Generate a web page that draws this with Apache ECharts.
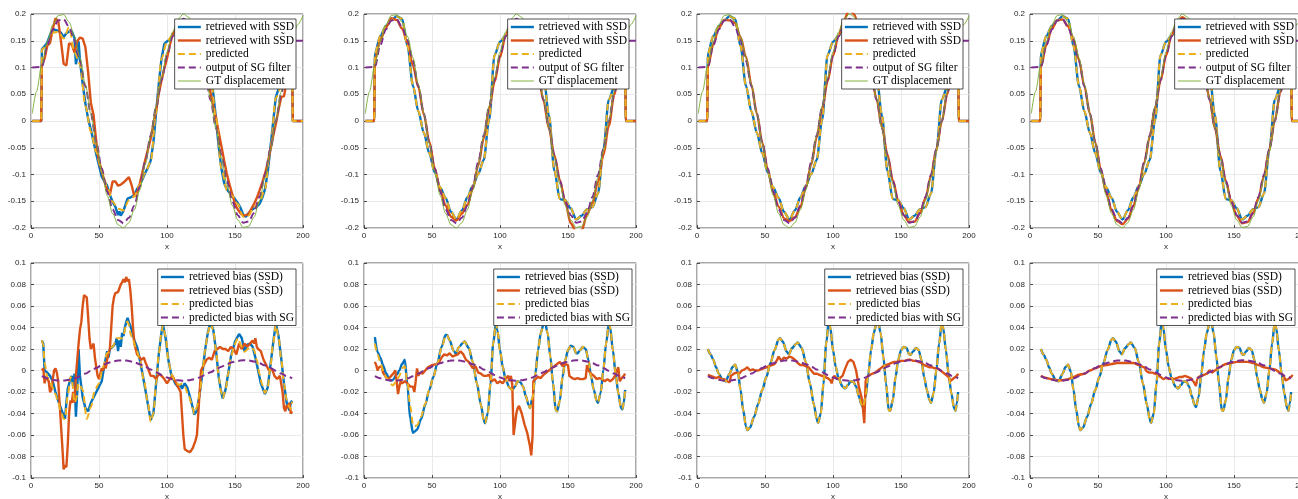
<!DOCTYPE html>
<html>
<head>
<meta charset="utf-8">
<script src="https://cdn.jsdelivr.net/npm/echarts@6/dist/echarts.min.js"></script>
<style>
html, body { margin: 0; padding: 0; background: #fff; }
#chart { width: 1298px; height: 499px; }
</style>
</head>
<body>
<div id="chart"></div>
<script>
//x 网格（每 4 个单位）
var grid4X = [8,12,16,20,24,28,32,36,40,44,48,52,56,60,64,68,72,76,80,84,88,92,96,100,104,108,112,116,120,124,128,132,136,140,144,148,152,156,160,164,168,172,176,180,184,188,192];
var topX = [1, 7.5].concat(grid4X, [192.5, 200]);
var sgTopX = [1].concat(grid4X, [193, 200]);

//GT displacement
var gtX = [1,4,8,12,16,20,24,28,32,36,40,44,48,52,56,60,64,68,72,76,80,84,88,92,96,100,104,108,112,116,120,124,128,132,136,140,144,148,152,156,160,164,168,172,176,180,184,188,192,196,200];
var gtY = [0.014,0.055,0.106,0.149,0.180,0.197,0.199,0.185,0.158,0.118,0.068,0.014,-0.042,-0.094,-0.139,-0.173,-0.194,-0.200,-0.190,-0.166,-0.129,-0.081,-0.028,0.028,0.081,0.129,0.166,0.190,0.200,0.194,0.173,0.139,0.094,0.042,-0.014,-0.068,-0.118,-0.158,-0.185,-0.199,-0.197,-0.180,-0.149,-0.106,-0.055,0,0.055,0.106,0.149,0.180,0.197];

//output of SG filter（上排共用）
var sgTopY = [0.1,0.101,0.142,0.171,0.188,0.190,0.176,0.151,0.113,0.065,0.014,-0.040,-0.089,-0.132,-0.165,-0.185,-0.191,-0.181,-0.158,-0.123,-0.077,-0.027,0.026,0.077,0.123,0.158,0.181,0.191,0.185,0.165,0.133,0.090,0.040,-0.013,-0.064,-0.112,-0.150,-0.176,-0.190,-0.188,-0.172,-0.142,-0.101,-0.053,0.000,0.052,0.101,0.142,0.15,0.15];

//predicted（第 2-4 列，蓝线与之重合）
var predTopY = [0,0,0.126,0.159,0.177,0.188,0.196,0.191,0.140,0.066,0.018,-0.022,-0.060,-0.096,-0.124,-0.144,-0.170,-0.184,-0.167,-0.143,-0.121,-0.099,-0.073,0.002,0.123,0.148,0.159,0.174,0.188,0.182,0.145,0.115,0.113,0.086,0.010,-0.093,-0.146,-0.148,-0.163,-0.184,-0.177,-0.165,-0.161,-0.136,-0.055,0.040,0.063,0.078,0.129,0,0];
var p1PredTopY = [0,0,0.134,0.143,0.165,0.167,0.154,0.175,0.128,0.106,0.028,-0.020,-0.058,-0.094,-0.123,-0.151,-0.164,-0.167,-0.148,-0.141,-0.119,-0.097,-0.076,0.016,0.117,0.149,0.160,0.177,0.187,0.170,0.133,0.118,0.113,0.086,0.005,-0.089,-0.129,-0.140,-0.155,-0.179,-0.177,-0.161,-0.152,-0.127,-0.052,0.043,0.065,0.079,0.120,0,0];

//retrieved with SSD，第 1 列
var p1BlueTopX = [1,7.5,8,10,12,14,16,18,20,22,24,26,28,30,32,33,34,35,36,38,40,42,44,46,48,50,52,54,56,58,60,62,63,64,65,66,68,70,71,72,74,76,78,80,82,84,86,88,90,92,94,96,98,100,102,104,106,108,110,112,114,116,118,120,122,124,126,128,130,132,134,136,138,140,142,144,146,148,150,152,154,156,158,160,162,164,166,168,170,172,174,176,178,180,182,184,186,188,190,192,192.5,200];
var p1BlueTopY = [0,0,0.134,0.140,0.147,0.161,0.170,0.170,0.169,0.165,0.157,0.164,0.167,0.168,0.155,0.106,0.119,0.149,0.113,0.069,0.033,0.004,-0.016,-0.039,-0.062,-0.083,-0.104,-0.113,-0.121,-0.138,-0.151,-0.160,-0.160,-0.176,-0.169,-0.177,-0.168,-0.152,-0.145,-0.145,-0.142,-0.138,-0.127,-0.119,-0.109,-0.097,-0.087,-0.074,-0.040,0.016,0.071,0.117,0.144,0.149,0.152,0.160,0.168,0.175,0.184,0.186,0.185,0.174,0.155,0.132,0.121,0.117,0.115,0.113,0.103,0.087,0.052,0.005,-0.048,-0.089,-0.116,-0.128,-0.134,-0.140,-0.146,-0.153,-0.162,-0.175,-0.179,-0.172,-0.167,-0.163,-0.160,-0.155,-0.144,-0.128,-0.097,-0.051,-0.003,0.044,0.060,0.066,0.069,0.076,0.092,0.121,0,0];

//retrieved with S~SD，各列
var p1OrangeTopX = [1,7.5,8,10,12,14,16,18,20,22,24,26,28,30,32,34,36,38,40,42,44,46,48,50,52,54,56,58,60,62,64,66,68,70,72,74,76,78,80,82,84,86,88,90,92,94,96,98,100,102,104,106,108,110,112,114,116,118,120,122,124,126,128,130,132,134,136,138,140,142,144,146,148,150,152,154,156,158,160,162,164,166,168,170,172,174,176,178,180,182,184,186,188,190,192,192.5,200];
var p1OrangeTopY = [0,0,0.106,0.117,0.141,0.146,0.172,0.192,0.187,0.150,0.107,0.104,0.145,0.143,0.128,0.149,0.156,0.154,0.138,0.092,0.034,0.011,-0.039,-0.076,-0.092,-0.113,-0.129,-0.138,-0.113,-0.113,-0.121,-0.119,-0.115,-0.110,-0.105,-0.120,-0.141,-0.134,-0.117,-0.095,-0.073,-0.053,-0.033,-0.005,0.020,0.052,0.076,0.098,0.117,0.141,0.161,0.170,0.175,0.177,0.140,0.125,0.119,0.111,0.105,0.098,0.119,0.121,0.102,0.079,0.053,0.028,0.006,-0.021,-0.047,-0.074,-0.099,-0.119,-0.137,-0.155,-0.165,-0.172,-0.177,-0.176,-0.174,-0.164,-0.155,-0.144,-0.130,-0.115,-0.099,-0.079,-0.054,-0.029,-0.006,0.021,0.045,0.046,0.074,0.099,0.111,0,0];
var p2OrangeTopY = [0,0,0.114,0.151,0.174,0.192,0.189,0.173,0.146,0.103,0.063,0.012,-0.038,-0.088,-0.129,-0.158,-0.179,-0.186,-0.173,-0.157,-0.127,-0.083,-0.033,0.024,0.073,0.119,0.158,0.185,0.160,0.154,0.115,0.109,0.088,0.038,-0.014,-0.064,-0.110,-0.152,-0.191,-0.207,-0.205,-0.175,-0.153,-0.114,-0.064,-0.009,0.049,0.096,0.146,0,0];
var p3OrangeTopY = [0,0,0.102,0.143,0.174,0.189,0.188,0.183,0.157,0.120,0.068,0.014,-0.040,-0.0905,-0.1335,-0.160,-0.182,-0.187,-0.180,-0.161,-0.125,-0.081,-0.031,0.023,0.074,0.122,0.1585,0.188,0.209,0.198,0.153,0.129,0.0905,0.041,-0.011,-0.0625,-0.1105,-0.1495,-0.176,-0.189,-0.188,-0.1725,-0.1445,-0.103,-0.053,-0.001,0.050,0.098,0.146,0,0];
var p4OrangeTopY = [0,0,0.101,0.142,0.172,0.188,0.190,0.177,0.152,0.114,0.065,0.014,-0.040,-0.090,-0.134,-0.167,-0.187,-0.193,-0.183,-0.159,-0.124,-0.078,-0.030,0.025,0.075,0.122,0.159,0.183,0.194,0.188,0.163,0.133,0.090,0.042,-0.014,-0.065,-0.112,-0.151,-0.177,-0.191,-0.189,-0.173,-0.144,-0.103,-0.053,0.001,0.053,0.097,0.143,0,0];

//predicted bias（第 3-4 列，蓝线与之重合）
var predBiasX = [8,10,12,14,16,19,21,24,26,28,30,32,34,36,37,39,42,45,48,51,54,57,60,61,63,66,67.5,70,73,74,77,80,83,86,88,89,91,93,95,97,98,100,102,104,107,109,111,113,115,117,119,121,122,124,126,128,130,132,133,135,137,139,141,142,144,146,148,150,152,154,156,157,159,161,163,165,167,169,171,172,174,176,178,180,181,183,185,187,189,190,191,192];
var predBiasY = [0.020,0.015,0.010,0.003,-0.003,-0.009,-0.010,-0.003,0.003,0.0055,-0.001,-0.018,-0.037,-0.052,-0.0555,-0.053,-0.043,-0.031,-0.018,-0.006,0.007,0.019,0.029,0.030,0.027,0.0175,0.015,0.021,0.025,0.026,0.021,0.008,-0.012,-0.032,-0.045,-0.0487,-0.040,-0.012,0.025,0.048,0.040,0.019,0.0035,-0.007,-0.015,-0.0166,-0.0135,-0.010,-0.0104,-0.015,-0.024,-0.032,-0.034,-0.0245,-0.003,0.019,0.035,0.044,0.047,0.035,0.013,-0.012,-0.037,-0.0375,-0.0275,-0.006,0.010,0.019,0.022,0.021,0.015,0.0145,0.018,0.021,0.019,0.010,-0.006,-0.018,-0.0275,-0.030,-0.021,0.0005,0.025,0.045,0.040,0.019,-0.003,-0.021,-0.035,-0.0375,-0.031,-0.020];
var p2BlueBiasY = [0.031,0.017,0.012,0.005,-0.002,-0.009,-0.009,-0.004,0.000,0.006,0.010,-0.015,-0.045,-0.058,-0.057,-0.055,-0.045,-0.032,-0.018,-0.006,0.007,0.022,0.033,0.033,0.028,0.018,0.016,0.022,0.026,0.027,0.021,0.008,-0.012,-0.032,-0.046,-0.049,-0.040,-0.012,0.025,0.044,0.038,0.019,0.0035,-0.008,-0.016,-0.018,-0.015,-0.010,-0.011,-0.015,-0.024,-0.032,-0.035,-0.025,-0.003,0.019,0.035,0.043,0.045,0.035,0.013,-0.012,-0.037,-0.038,-0.028,-0.006,0.010,0.019,0.023,0.022,0.016,0.016,0.019,0.022,0.020,0.010,-0.006,-0.018,-0.028,-0.030,-0.021,0.0005,0.025,0.043,0.040,0.019,-0.003,-0.021,-0.035,-0.036,-0.030,-0.018];
var p2PredBiasY = [0.025,0.015,0.008,0.000,-0.006,-0.011,-0.014,-0.010,-0.005,0.002,0.004,-0.012,-0.033,-0.050,-0.052,-0.051,-0.043,-0.031,-0.018,-0.006,0.007,0.021,0.032,0.033,0.028,0.018,0.016,0.022,0.026,0.027,0.021,0.008,-0.012,-0.032,-0.046,-0.049,-0.040,-0.012,0.025,0.044,0.038,0.019,0.0035,-0.008,-0.016,-0.018,-0.015,-0.010,-0.011,-0.015,-0.024,-0.032,-0.035,-0.025,-0.003,0.019,0.035,0.043,0.045,0.035,0.013,-0.012,-0.037,-0.038,-0.028,-0.006,0.010,0.019,0.023,0.022,0.016,0.016,0.019,0.022,0.020,0.010,-0.006,-0.018,-0.028,-0.030,-0.021,0.0005,0.025,0.043,0.040,0.019,-0.003,-0.021,-0.035,-0.036,-0.030,-0.018];

//第 1 列 bias
var p1BlueBiasX = [8,9,10,11,12,14,16,18,20,22,24,25,26,27,28,29,30,31,32,33,34,35,36,38,40,42,44,46,48,50,52,54,56,57,58,60,62,63,64,65,66,67,68,69,70,71,72,74,76,78,80,83,86,88,90,92,94,96,97,99,101,103,106,108,110,111,113,115,117,119,120,122,124,126,128,130,132,134,136,138,140,141,143,145,147,150,153,155,157,159,161,163,165,167,169,172,174,176,178,180,182,184,186,188,190,191,192];
var p1BlueBiasY = [0.028,0.025,0.0,0.0,-0.002,-0.005,-0.01,-0.02,-0.028,-0.035,-0.042,-0.045,-0.03,-0.017,-0.018,-0.008,-0.005,-0.015,-0.003,-0.043,-0.02,0.02,-0.005,-0.025,-0.035,-0.038,-0.03,-0.025,-0.02,-0.015,-0.01,0.005,0.018,0.012,0.02,0.022,0.025,0.03,0.018,0.028,0.022,0.035,0.032,0.04,0.045,0.049,0.045,0.038,0.028,0.022,0.01,-0.01,-0.032,-0.046,-0.04,-0.012,0.016,0.036,0.043,0.03,0.01,-0.003,-0.012,-0.015,-0.013,-0.017,-0.012,-0.016,-0.025,-0.035,-0.041,-0.037,-0.022,-0.003,0.019,0.035,0.045,0.038,0.019,-0.006,-0.021,-0.026,-0.018,-0.003,0.013,0.027,0.034,0.03,0.018,0.024,0.025,0.022,0.012,0.0,-0.012,-0.022,-0.016,0.004,0.025,0.044,0.032,0.011,-0.012,-0.03,-0.037,-0.03,-0.028];
var p1PredBiasX = [8,9,10,12,14,16,18,20,22,24,25,27,29,30,32,33,35,38,41,44,47,50,53,56,60,63,67,71,74,77,80,83,86,88,90,92,94,96,97,99,101,103,106,109,111,113,116,119,120,122,124,126,128,130,132,134,136,138,140,141,143,145,147,150,152,155,157,160,162,164,166,168,170,172,174,176,178,180,182,184,186,188,190,191,192];
var p1PredBiasY = [0.028,0.024,0.007,-0.006,-0.01,-0.016,-0.022,-0.03,-0.038,-0.045,-0.045,-0.024,-0.006,-0.008,-0.03,-0.028,-0.012,-0.018,-0.045,-0.034,-0.018,-0.012,0.0035,0.016,0.022,0.03,0.03,0.0455,0.0315,0.022,0.01,-0.009,-0.031,-0.048,-0.04,-0.012,0.016,0.036,0.042,0.0315,0.01,-0.003,-0.01,-0.0135,-0.012,-0.015,-0.024,-0.035,-0.04,-0.034,-0.021,-0.003,0.019,0.035,0.044,0.038,0.019,-0.006,-0.021,-0.026,-0.018,-0.003,0.013,0.025,0.03,0.022,0.0175,0.0205,0.022,0.019,0.01,-0.003,-0.0135,-0.021,-0.0165,0.0035,0.025,0.0425,0.0315,0.01,-0.012,-0.0275,-0.034,-0.036,-0.029];
var p1OrangeBiasX = [8,9,10,11,12,13,14,15,16,17,18,19,20,21,22,23,24,25,26,27,28,29,30,31,32,33,34,35,36,37,38,39,40,41,42,43,44,45,46,47,48,49,50,51,52,53,54,55,56,57,58,59,60,61,62,64,65,66,67,68,69,70,71,72,73,74,75,76,77,78,79,80,81,83,84,85,86,88,90,92,94,96,98,100,102,104,106,108,110,111,112,113,115,117,119,121,122,123,124,125,127,129,131,133,135,137,139,141,143,145,147,149,151,153,155,157,159,161,163,164,165,166,167,169,171,173,175,177,179,181,183,185,186,187,188,189,190,191,192];
var p1OrangeBiasY = [0.0,0.002,-0.012,-0.005,-0.008,-0.01,-0.02,-0.018,-0.008,0.0,0.002,-0.002,-0.01,-0.03,-0.05,-0.07,-0.092,-0.088,-0.09,-0.07,-0.04,-0.028,-0.03,-0.02,-0.03,-0.005,0.01,0.025,0.038,0.045,0.06,0.07,0.07,0.068,0.05,0.03,0.02,0.02,0.025,0.012,0.003,-0.005,-0.008,-0.003,0.002,0.0,0.005,0.002,0.01,0.016,0.02,0.04,0.06,0.068,0.072,0.073,0.074,0.08,0.082,0.085,0.082,0.087,0.083,0.085,0.075,0.06,0.04,0.025,0.02,0.015,0.015,0.012,0.01,0.012,0.008,0.005,0.002,-0.005,-0.005,-0.008,-0.003,-0.005,-0.008,-0.012,-0.008,-0.005,-0.01,-0.015,-0.02,-0.04,-0.06,-0.073,-0.075,-0.076,-0.072,-0.065,-0.06,-0.04,-0.02,0.0,0.005,0.01,0.012,0.01,0.018,0.02,0.022,0.02,0.02,0.018,0.022,0.02,0.015,0.025,0.02,0.025,0.022,0.025,0.028,0.025,0.03,0.022,0.02,0.018,0.01,0.005,0.0,0.002,-0.005,-0.008,-0.005,-0.02,-0.035,-0.038,-0.032,-0.035,-0.03,-0.04,-0.038];

//第 2-4 列 S~SD bias
var p2OrangeBiasX = [8,9,10,11,12,13,14,16,18,20,22,23,24,25,26,27,28,30,32,34,36,37,38,39,40,41,43,45,47,50,53,55,57,59,61,63,65,67,69,71,73,75,77,80,82,84,86,88,90,92,94,96,98,100,102,104,106,107,108,109,110,111,112,113,114,116,118,120,122,123,124,124.5,126,128,130,132,134,136,138,140,142,144,146,148,150,151,153,155,157,159,161,163,164,165,167,169,171,173,175,177,179,181,183,185,186,187,188,189,191,192];
var p2OrangeBiasY = [0.008,0.005,0.0,0.003,0.002,0.004,-0.002,-0.006,-0.008,-0.005,-0.002,0.0,-0.01,-0.022,-0.015,-0.01,-0.012,-0.01,-0.012,-0.015,-0.015,-0.02,-0.01,0.002,-0.005,-0.002,-0.003,0.0,0.003,0.005,0.006,0.007,0.012,0.015,0.014,0.016,0.013,0.014,0.015,0.018,0.015,0.01,0.008,0.002,0.004,-0.002,-0.003,-0.005,-0.005,-0.004,-0.01,-0.008,-0.012,-0.01,-0.012,-0.008,-0.005,-0.01,-0.005,-0.013,-0.06,-0.05,-0.04,-0.035,-0.033,-0.04,-0.05,-0.058,-0.07,-0.079,-0.06,-0.01,-0.008,-0.006,-0.007,-0.004,-0.002,0.0,0.002,0.004,0.006,0.008,0.004,0.006,0.005,-0.005,-0.007,-0.008,-0.007,-0.008,-0.008,-0.007,0.005,0.0,-0.003,-0.005,-0.008,-0.007,-0.008,-0.01,-0.008,-0.01,-0.008,-0.004,0.0,0.003,-0.01,-0.008,-0.005,-0.003];
var p3OrangeBiasX = [8,10,12,14,16,18,20,22,24,25,27,29,31,33,35,37,39,41,43,45,47,49,51,53,55,57,59,60,62,64,66,68,70,72,74,76,78,80,82,84,86,88,90,92,94,96,98,99,100,101,103,105,107,109,111,113,115,117,119,120,121,122,123,123.5,124,125,127,129,131,133,135,137,139,141,143,145,147,149,151,153,155,157,159,161,163,165,167,169,171,173,175,177,179,181,183,185,186,187,189,191,192];
var p3OrangeBiasY = [-0.004,-0.005,-0.006,-0.007,-0.006,-0.008,-0.008,-0.01,-0.011,-0.005,-0.003,-0.002,-0.003,0.0,0.001,0.003,0.0,0.001,0.0,0.0,0.001,0.002,0.003,0.004,0.005,0.006,0.01,0.013,0.009,0.012,0.011,0.013,0.012,0.01,0.007,0.005,0.005,0.004,0.003,0.0,-0.003,-0.003,-0.004,-0.005,-0.006,-0.007,-0.009,-0.012,-0.007,-0.005,-0.008,-0.007,-0.005,0.002,0.008,0.01,0.008,0.0,-0.015,-0.02,-0.025,-0.035,-0.049,-0.03,-0.01,-0.006,-0.004,-0.003,-0.002,0.0,0.002,0.004,0.005,0.006,0.007,0.008,0.008,0.009,0.009,0.009,0.01,0.01,0.009,0.009,0.008,0.007,0.005,0.004,0.003,0.003,0.002,0.002,0.0,-0.002,-0.004,-0.006,-0.01,-0.009,-0.007,-0.005,-0.003];
var p4OrangeBiasX = [8,12,16,20,24,28,32,36,40,44,48,52,56,60,64,68,72,76,80,84,86,88,90,92,94,96,98,100,102,104,106,108,110,112,114,116,118,120,122,123,124,126,128,130,132,134,136,138,140,142,144,148,152,156,160,164,168,172,176,180,184,186,188,190,192,193];
var p4OrangeBiasY = [-0.005,-0.007,-0.008,-0.009,-0.009,-0.008,-0.006,-0.004,-0.003,0.0,0.002,0.004,0.005,0.006,0.007,0.007,0.007,0.007,0.005,0.003,-0.001,-0.002,-0.002,-0.003,-0.004,-0.006,-0.008,-0.007,-0.008,-0.007,-0.008,-0.007,-0.006,-0.006,-0.005,-0.006,-0.007,-0.01,-0.014,-0.008,-0.006,-0.005,-0.004,-0.003,0.0,-0.002,0.0,0.002,0.003,0.005,0.006,0.007,0.008,0.008,0.008,0.007,0.005,0.003,0.002,0.001,-0.002,-0.004,-0.009,-0.008,-0.006,-0.004];

//predicted bias with SG（下排共用）
var sgBiasY = [-0.0053,-0.0073,-0.0087,-0.0094,-0.0094,-0.0087,-0.0073,-0.0053,-0.0029,-0.0003,0.0023,0.0048,0.0068,0.0084,0.0093,0.0095,0.0089,0.0077,0.0058,0.0036,0.001,-0.0017,-0.0042,-0.0064,-0.0081,-0.0091,-0.0095,-0.0091,-0.0081,-0.0064,-0.0042,-0.0017,0.001,0.0036,0.0058,0.0077,0.0089,0.0095,0.0093,0.0084,0.0068,0.0048,0.0023,-0.0003,-0.0029,-0.0053,-0.0073];

//图例名称
var topNames = ["retrieved with SSD", "retrieved with SS\u0303D", "predicted", "output of SG filter", "GT displacement"];
var botNames = ["retrieved bias (SSD)", "retrieved bias (SS\u0303D)", "predicted bias", "predicted bias with SG"];

//初始化图表实例
var chart = echarts.init(document.getElementById("chart"));

var colLeft = [31, 364, 697, 1030];
var topLegendRight = [1002, 669, 335, 2];
var botLegendRight = [1002, 666, 335, 3];

var sty = {
    blue: { color: "#0072BD", width: 2.4, type: "solid" },
    orange: { color: "#D95319", width: 2.4, type: "solid" },
    yellow: { color: "#EDB120", width: 2, type: [7, 4] },
    purple: { color: "#7E2F8E", width: 2, type: [7, 4] },
    green: { color: "#77AC30", width: 0.9, type: "solid" }
};

function zip(xs, ys) {
    return xs.map(function(x, i) { return [x, ys[i]]; });
}

function line(name, idx, xs, ys, s, smooth) {
    return {
        name: name,
        type: "line",
        xAxisIndex: idx,
        yAxisIndex: idx,
        data: zip(xs, ys),
        symbol: "none",
        smooth: smooth,
        smoothMonotone: "x",
        lineStyle: { color: s.color, width: s.width, type: s.type },
        itemStyle: { color: s.color },
        emphasis: { disabled: true }
    };
}

var grids = [], xAxes = [], yAxes = [], legends = [], series = [];
var labelFont = { fontFamily: "Liberation Sans", fontSize: 8, color: "#262626" };

for (var r = 0; r < 2; r++) {
    for (var c = 0; c < 4; c++) {
        var idx = r * 4 + c;
        grids.push({
            left: colLeft[c],
            top: r === 0 ? 14 : 263,
            width: 272,
            height: r === 0 ? 214 : 215,
            containLabel: false,
            outerBoundsMode: "none",
            show: true,
            borderColor: "#262626",
            borderWidth: 0.8
        });
        xAxes.push({
            gridIndex: idx,
            type: "value",
            min: 0,
            max: 200,
            interval: 50,
            name: "x",
            nameLocation: "middle",
            nameGap: 15,
            nameTextStyle: labelFont,
            axisLine: { show: false, onZero: false },
            axisTick: { show: true, inside: true, length: 3, lineStyle: { color: "#262626", width: 0.8 } },
            axisLabel: { margin: 4, fontFamily: labelFont.fontFamily, fontSize: 8, color: "#262626", hideOverlap: false },
            splitLine: { show: true, lineStyle: { color: "#e3e3e3", width: 0.8 } }
        });
        yAxes.push({
            gridIndex: idx,
            type: "value",
            min: r === 0 ? -0.2 : -0.1,
            max: r === 0 ? 0.2 : 0.1,
            interval: r === 0 ? 0.05 : 0.02,
            axisLine: { show: false, onZero: false },
            axisTick: { show: true, inside: true, length: 3, lineStyle: { color: "#262626", width: 0.8 } },
            axisLabel: { margin: 5, fontFamily: labelFont.fontFamily, fontSize: 8, color: "#262626" },
            splitLine: { show: true, lineStyle: { color: "#e3e3e3", width: 0.8 } }
        });
        legends.push({
            data: r === 0 ? topNames : botNames,
            orient: "vertical",
            align: "left",
            right: r === 0 ? topLegendRight[c] : botLegendRight[c],
            top: r === 0 ? 19 : 269,
            itemWidth: 23,
            itemHeight: 10,
            itemGap: 1.5,
            padding: [2, 2, 2, 2],
            backgroundColor: "#fff",
            borderColor: "#262626",
            borderWidth: 0.8,
            selectedMode: false,
            itemStyle: { opacity: 0, borderWidth: 0 },
            lineStyle: { width: "inherit" },
            textStyle: { fontFamily: "Liberation Serif", fontSize: 11.5, color: "#000" }
        });
    }
}

//上排
var topBlue = [[p1BlueTopX, p1BlueTopY, false], [topX, predTopY, 0.3], [topX, predTopY, 0.3], [topX, predTopY, 0.3]];
var topOrange = [[p1OrangeTopX, p1OrangeTopY, false], [topX, p2OrangeTopY, 0.3], [topX, p3OrangeTopY, 0.3], [topX, p4OrangeTopY, 0.3]];
var topPred = [[topX, p1PredTopY, 0.3], [topX, predTopY, 0.3], [topX, predTopY, 0.3], [topX, predTopY, 0.3]];
for (var i = 0; i < 4; i++) {
    series.push(line(topNames[0], i, topBlue[i][0], topBlue[i][1], sty.blue, topBlue[i][2]));
    series.push(line(topNames[1], i, topOrange[i][0], topOrange[i][1], sty.orange, topOrange[i][2]));
    series.push(line(topNames[2], i, topPred[i][0], topPred[i][1], sty.yellow, topPred[i][2]));
    series.push(line(topNames[3], i, sgTopX, sgTopY, sty.purple, 0.3));
    series.push(line(topNames[4], i, gtX, gtY, sty.green, 0.3));
}

//下排
var botBlue = [[p1BlueBiasX, p1BlueBiasY, false], [predBiasX, p2BlueBiasY, 0.3], [predBiasX, predBiasY, 0.3], [predBiasX, predBiasY, 0.3]];
var botOrange = [[p1OrangeBiasX, p1OrangeBiasY, false], [p2OrangeBiasX, p2OrangeBiasY, false], [p3OrangeBiasX, p3OrangeBiasY, false], [p4OrangeBiasX, p4OrangeBiasY, 0.3]];
var botPred = [[p1PredBiasX, p1PredBiasY, 0.3], [predBiasX, p2PredBiasY, 0.3], [predBiasX, predBiasY, 0.3], [predBiasX, predBiasY, 0.3]];
for (var j = 0; j < 4; j++) {
    series.push(line(botNames[0], 4 + j, botBlue[j][0], botBlue[j][1], sty.blue, botBlue[j][2]));
    series.push(line(botNames[1], 4 + j, botOrange[j][0], botOrange[j][1], sty.orange, botOrange[j][2]));
    series.push(line(botNames[2], 4 + j, botPred[j][0], botPred[j][1], sty.yellow, botPred[j][2]));
    series.push(line(botNames[3], 4 + j, grid4X, sgBiasY, sty.purple, 0.3));
}

//图表配置项
var option = {
    backgroundColor: "#fff",
    animation: false,
    grid: grids,
    xAxis: xAxes,
    yAxis: yAxes,
    legend: legends,
    series: series
};

//使用以上配置项配置图表
chart.setOption(option);
</script>
</body>
</html>
